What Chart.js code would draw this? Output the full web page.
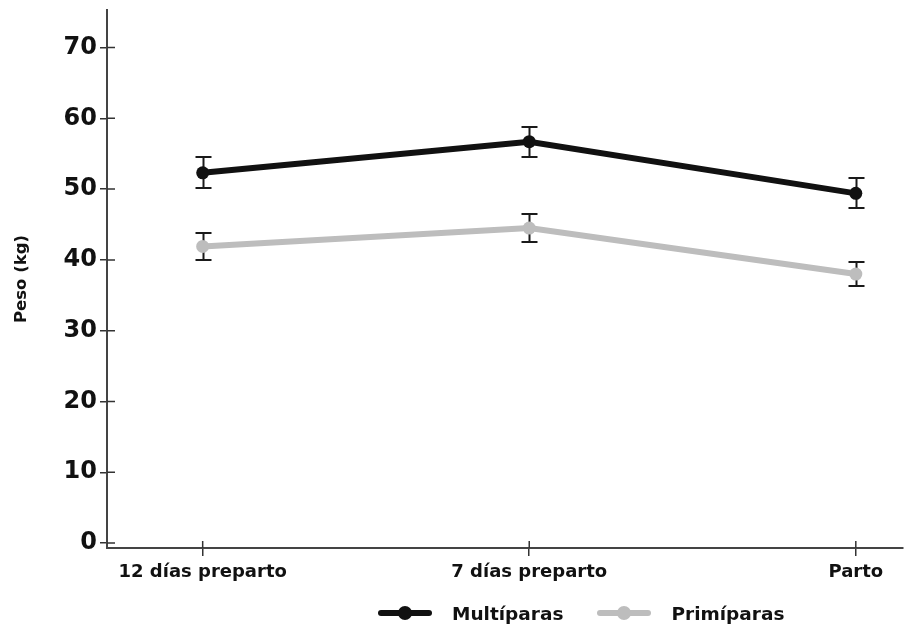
<!DOCTYPE html>
<html>
<head>
<meta charset="utf-8">
<script src="https://cdn.jsdelivr.net/npm/chart.js@4/dist/chart.umd.min.js"></script>
<style>
  html, body { margin: 0; padding: 0; background: #fff; overflow: hidden; }
  #wrap { position: relative; width: 909px; height: 627px; }
  canvas { display: block; }
  #legend { position: absolute; left: 378px; top: 601px; height: 24px; display: flex; align-items: center;
            font: 700 18.5px "DejaVu Sans", sans-serif; color: #111; white-space: nowrap; }
  .item { display: flex; align-items: center; margin-right: 34px; }
  .swatch { position: relative; width: 54px; height: 14px; margin-right: 20px; }
  .swatch .ln { position: absolute; left: 0; right: 0; top: 4px; height: 6px; border-radius: 3px; }
  .swatch .dot { position: absolute; left: 20px; top: 0; width: 14px; height: 14px; border-radius: 50%; }
</style>
</head>
<body>
<div id="wrap">
  <canvas id="c" width="909" height="627"></canvas>
  <div id="legend"></div>
</div>
<script>
// Mean body weight (kg) with standard error, by sampling time
const categories = ['12 días preparto', '7 días preparto', 'Parto'];
const seriesNames = ['Multíparas', 'Primíparas'];
const multiparas = [52.3, 56.7, 49.4];
const multiparasErr = [2.2, 2.1, 2.1];
const primiparas = [41.9, 44.5, 38.0];
const primiparasErr = [1.9, 2.0, 1.7];
const yTicks = [0, 10, 20, 30, 40, 50, 60, 70];
const seriesColors = ['#111111', '#bdbdbd'];

const FONT = '"DejaVu Sans", sans-serif';
const AXIS_COLOR = '#444';
const TEXT_COLOR = '#111';

// Vertical error bars with caps, drawn underneath the lines and points
const errorBars = {
  id: 'errorBars',
  beforeDatasetsDraw(chart) {
    const { ctx, scales: { x, y } } = chart;
    ctx.save();
    ctx.strokeStyle = '#1a1a1a';
    ctx.lineWidth = 2;
    chart.data.datasets.forEach(ds => {
      ds.errors.forEach((e, i) => {
        const pt = ds.data[i];
        const px = Math.round(x.getPixelForValue(pt.x)) + 0.5;
        const top = Math.round(y.getPixelForValue(pt.y + e));
        const bot = Math.round(y.getPixelForValue(pt.y - e));
        ctx.beginPath();
        ctx.moveTo(px, top); ctx.lineTo(px, bot);
        ctx.moveTo(px - 8, top); ctx.lineTo(px + 8, top);
        ctx.moveTo(px - 8, bot); ctx.lineTo(px + 8, bot);
        ctx.stroke();
      });
    });
    ctx.restore();
  }
};

// Tick marks that cross the axis: inner half of each tick
const innerTicks = {
  id: 'innerTicks',
  afterDraw(chart) {
    const { ctx, chartArea, scales: { x, y } } = chart;
    ctx.save();
    ctx.strokeStyle = '#333';
    ctx.lineWidth = 1.5;
    ctx.beginPath();
    y.ticks.forEach((t, i) => {
      const py = y.getPixelForTick(i);
      ctx.moveTo(chartArea.left, py); ctx.lineTo(chartArea.left + 8, py);
    });
    x.ticks.forEach((t, i) => {
      const px = x.getPixelForTick(i);
      ctx.moveTo(px, chartArea.bottom); ctx.lineTo(px, chartArea.bottom - 7);
    });
    ctx.stroke();
    ctx.restore();
  }
};

const toPoints = arr => arr.map((v, i) => ({ x: i, y: v }));

const chart = new Chart(document.getElementById('c'), {
  type: 'line',
  data: {
    datasets: [
      { label: seriesNames[0], data: toPoints(multiparas), errors: multiparasErr,
        borderColor: seriesColors[0], backgroundColor: seriesColors[0],
        borderWidth: 6, pointRadius: 6.5, pointBorderWidth: 0, tension: 0 },
      { label: seriesNames[1], data: toPoints(primiparas), errors: primiparasErr,
        borderColor: seriesColors[1], backgroundColor: seriesColors[1],
        borderWidth: 6, pointRadius: 6.5, pointBorderWidth: 0, tension: 0 }
    ]
  },
  options: {
    responsive: false,
    animation: false,
    events: [],
    layout: { padding: { left: 0, top: 10, right: 3, bottom: 45 } },
    plugins: { legend: { display: false }, tooltip: { enabled: false } },
    scales: {
      x: {
        type: 'linear', min: -0.293, max: 2.143,
        afterBuildTicks: s => { s.ticks = categories.map((c, i) => ({ value: i })); },
        afterFit: s => { s.height = 34; },
        ticks: { callback: v => categories[v], color: TEXT_COLOR, autoSkip: false, maxRotation: 0,
                 font: { family: FONT, size: 18, weight: 'bold' }, padding: 6 },
        grid: { drawOnChartArea: false, drawTicks: true, tickLength: 8, color: '#333', lineWidth: 1.5 },
        border: { display: true, color: AXIS_COLOR, width: 2 }
      },
      y: {
        min: -0.7, max: 75.3,
        afterBuildTicks: s => { s.ticks = yTicks.map(v => ({ value: v })); },
        afterFit: s => { s.width = 107; s.paddingTop = 0; },
        ticks: { color: TEXT_COLOR, font: { family: FONT, size: 24, weight: 'bold' }, padding: 3 },
        grid: { drawOnChartArea: false, drawTicks: true, tickLength: 7, color: '#333', lineWidth: 1.5 },
        border: { display: true, color: AXIS_COLOR, width: 2 },
        title: { display: true, text: 'Peso (kg)', color: TEXT_COLOR,
                 font: { family: FONT, size: 16.5, weight: 'bold' }, padding: { top: 12, bottom: 0 } }
      }
    }
  },
  plugins: [errorBars, innerTicks]
});

// Legend built from the chart's datasets
const legend = document.getElementById('legend');
chart.data.datasets.forEach(ds => {
  const item = document.createElement('div');
  item.className = 'item';
  const sw = document.createElement('div');
  sw.className = 'swatch';
  const ln = document.createElement('div');
  ln.className = 'ln';
  ln.style.background = ds.borderColor;
  const dot = document.createElement('div');
  dot.className = 'dot';
  dot.style.background = ds.backgroundColor;
  sw.appendChild(ln); sw.appendChild(dot);
  const label = document.createElement('span');
  label.textContent = ds.label;
  item.appendChild(sw); item.appendChild(label);
  legend.appendChild(item);
});
</script>
</body>
</html>
